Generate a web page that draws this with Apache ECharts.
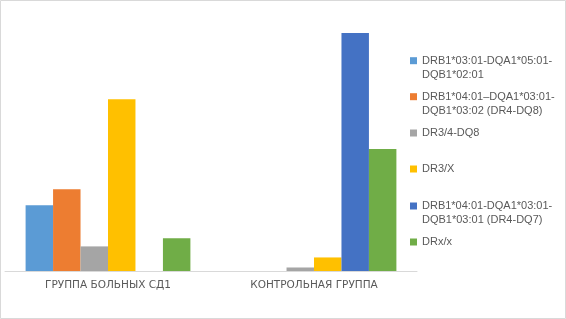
<!DOCTYPE html>
<html>
<head>
<meta charset="utf-8">
<script src="https://cdn.jsdelivr.net/npm/echarts@6/dist/echarts.min.js"></script>
<style>
html, body { margin: 0; padding: 0; background: #fff; }
#chart { width: 566px; height: 319px; }
</style>
</head>
<body>
<div id="chart"></div>
<script>
var categories = ["ГРУППА БОЛЬНЫХ СД1", "КОНТРОЛЬНАЯ ГРУППА"];
var seriesNames = [
    "DRB1*03:01-DQA1*05:01-DQB1*02:01",
    "DRB1*04:01–DQA1*03:01-DQB1*03:02 (DR4-DQ8)",
    "DR3/4-DQ8",
    "DR3/X",
    "DRB1*04:01-DQA1*03:01-DQB1*03:01 (DR4-DQ7)",
    "DRx/x"
];
var legendLabels = [
    ["DRB1*03:01-DQA1*05:01-", "DQB1*02:01"],
    ["DRB1*04:01–DQA1*03:01-", "DQB1*03:02 (DR4-DQ8)"],
    ["DR3/4-DQ8"],
    ["DR3/X"],
    ["DRB1*04:01-DQA1*03:01-", "DQB1*03:01 (DR4-DQ7)"],
    ["DRx/x"]
];
var colors = ["#5b9bd5", "#ed7d31", "#a5a5a5", "#ffc000", "#4472c4", "#70ad47"];
var values = [
    [13.1, 0],
    [16.3, 0],
    [4.9, 0.7],
    [34.2, 2.7],
    [0, 47.4],
    [6.5, 24.3]
];
var legendY = [60.7, 96.7, 133, 169, 206, 242];

var chart = echarts.init(document.getElementById("chart"));

var series = [], legends = [];
for (var i = 0; i < seriesNames.length; i++) {
    series.push({
        name: seriesNames[i],
        type: "bar",
        data: values[i],
        barGap: "0%",
        barCategoryGap: "20%",
        itemStyle: { color: colors[i] }
    });
    var lines = legendLabels[i], twoLine = lines.length > 1;
    // 2-line labels: a blank first line keeps line 1 level with the icon
    var txt = twoLine ? "{s|\u00a0}\n{t|" + lines[0] + "}\n{t|" + lines[1] + "}" : "{t|" + lines[0] + "}";
    (function (txt) {
        legends.push({
            data: [seriesNames[i]],
            left: 410,
            top: legendY[i] - (twoLine ? 21 : 7),
            orient: "vertical",
            itemWidth: 7,
            itemHeight: 7,
            icon: "rect",
            padding: 0,
            formatter: function () { return txt; },
            textStyle: {
                color: "#595959",
                fontFamily: "Liberation Sans",
                fontSize: 11,
                lineHeight: 14,
                rich: {
                    s: { fontSize: 11, lineHeight: 14, fontFamily: "Liberation Sans" },
                    t: { fontSize: 11, lineHeight: 14, fontFamily: "Liberation Sans", color: "#595959" }
                }
            }
        });
    })(txt);
}

chart.setOption({
    animation: false,
    color: colors,
    legend: legends,
    grid: { left: 5, width: 412, top: 20, bottom: 48, containLabel: false },
    xAxis: {
        type: "category",
        data: categories,
        axisLine: { lineStyle: { color: "#d9d9d9", width: 1 } },
        axisTick: { show: false },
        axisLabel: {
            color: "#595959",
            fontFamily: "DejaVu Sans",
            fontSize: 10.5,
            margin: 9
        }
    },
    yAxis: {
        type: "value",
        min: 0,
        max: 50,
        show: false,
        splitLine: { show: false }
    },
    graphic: [{
        type: "rect",
        shape: { x: 0.5, y: 0.5, width: 565, height: 318 },
        style: { fill: "none", stroke: "#d9d9d9", lineWidth: 1 },
        silent: true
    }],
    series: series
});
</script>
</body>
</html>
